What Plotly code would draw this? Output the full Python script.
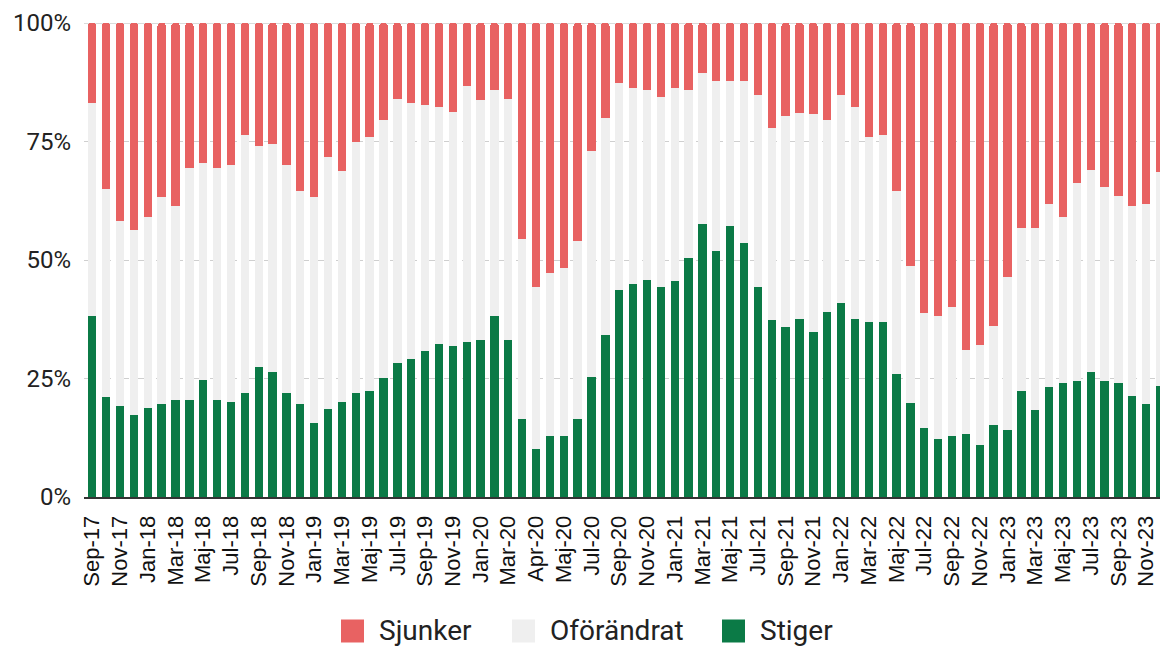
import plotly.graph_objects as go

# ---------------- data ----------------
categories = [
    "Sep-17", "Okt-17", "Nov-17", "Dec-17",
    "Jan-18", "Feb-18", "Mar-18", "Apr-18", "Maj-18", "Jun-18", "Jul-18", "Aug-18", "Sep-18", "Okt-18", "Nov-18", "Dec-18",
    "Jan-19", "Feb-19", "Mar-19", "Apr-19", "Maj-19", "Jun-19", "Jul-19", "Aug-19", "Sep-19", "Okt-19", "Nov-19", "Dec-19",
    "Jan-20", "Feb-20", "Mar-20", "Mar-20 (2)", "Apr-20", "Apr-20 (2)", "Maj-20", "Jun-20", "Jul-20", "Aug-20", "Sep-20", "Okt-20", "Nov-20", "Dec-20",
    "Jan-21", "Feb-21", "Mar-21", "Apr-21", "Maj-21", "Jun-21", "Jul-21", "Aug-21", "Sep-21", "Okt-21", "Nov-21", "Dec-21",
    "Jan-22", "Feb-22", "Mar-22", "Apr-22", "Maj-22", "Jun-22", "Jul-22", "Aug-22", "Sep-22", "Okt-22", "Nov-22", "Dec-22",
    "Jan-23", "Feb-23", "Mar-23", "Apr-23", "Maj-23", "Jun-23", "Jul-23", "Aug-23", "Sep-23", "Okt-23", "Nov-23", "Dec-23",
]

stiger = [
    38.1, 21.0, 19.2, 17.4,
    18.7, 19.7, 20.4, 20.4, 24.6, 20.4, 20.0, 22.0, 27.4, 26.4, 22.0, 19.7,
    15.6, 18.6, 20.0, 22.0, 22.4, 25.1, 28.2, 29.2, 30.9, 32.2, 31.9, 32.7,
    33.2, 38.1, 33.2, 16.4, 10.1, 12.8, 12.8, 16.4, 25.4, 34.1, 43.6, 45.0, 45.8, 44.4,
    45.5, 50.4, 57.7, 51.9, 57.2, 53.6, 44.4, 37.3, 35.9, 37.6, 34.9, 39.1,
    41.0, 37.6, 36.9, 36.9, 25.9, 19.9, 14.6, 12.3, 12.8, 13.2, 10.9, 15.1,
    14.2, 22.4, 18.3, 23.2, 24.1, 24.5, 26.4, 24.5, 24.1, 21.3, 19.7, 23.4,
]

oforandrat = [
    45.1, 44.0, 39.0, 39.0,
    40.4, 43.6, 41.0, 49.1, 45.8, 49.1, 50.1, 54.4, 46.7, 48.1, 48.0, 44.9,
    47.7, 53.2, 48.7, 52.9, 53.5, 54.4, 55.8, 54.0, 51.7, 50.0, 49.3, 54.0,
    50.5, 47.8, 50.8, 38.1, 34.1, 34.4, 35.5, 37.6, 47.6, 45.8, 43.7, 41.3, 40.1, 40.0,
    40.8, 35.5, 31.8, 35.9, 30.6, 34.2, 40.5, 40.5, 44.5, 43.5, 46.0, 40.4,
    43.9, 44.6, 39.0, 39.5, 38.7, 28.8, 24.2, 25.8, 27.3, 17.8, 21.1, 20.9,
    32.2, 34.4, 38.5, 38.7, 35.0, 41.8, 42.6, 40.9, 39.5, 40.1, 42.2, 45.1,
]

sjunker = [
    16.8, 35.0, 41.8, 43.6,
    40.9, 36.7, 38.6, 30.5, 29.6, 30.5, 29.9, 23.6, 25.9, 25.5, 30.0, 35.4,
    36.7, 28.2, 31.3, 25.1, 24.1, 20.5, 16.0, 16.8, 17.4, 17.8, 18.8, 13.3,
    16.3, 14.1, 16.0, 45.5, 55.8, 52.8, 51.7, 46.0, 27.0, 20.1, 12.7, 13.7, 14.1, 15.6,
    13.7, 14.1, 10.5, 12.2, 12.2, 12.2, 15.1, 22.2, 19.6, 18.9, 19.1, 20.5,
    15.1, 17.8, 24.1, 23.6, 35.4, 51.3, 61.2, 61.9, 59.9, 69.0, 68.0, 64.0,
    53.6, 43.2, 43.2, 38.1, 40.9, 33.7, 31.0, 34.6, 36.4, 38.6, 38.1, 31.5,
]

tick_labels = categories[::2]
y_ticks = [0, 25, 50, 75, 100]
y_tick_labels = ["0%", "25%", "50%", "75%", "100%"]

series_names = ["Stiger", "Oförändrat", "Sjunker"]
series_colors = {"Stiger": "#0b7a46", "Oförändrat": "#efefef", "Sjunker": "#e86262"}
legend_order = ["Sjunker", "Oförändrat", "Stiger"]

# ---------------- figure ----------------
W, H = 1160, 646
ML, MR, MT, MB = 84, 0, 23, 149

fig = go.Figure()
for name, vals in zip(series_names, [stiger, oforandrat, sjunker]):
    fig.add_trace(go.Bar(
        x=categories, y=vals, name=name,
        marker=dict(color=series_colors[name], line=dict(width=0)),
        showlegend=False,
        hovertemplate="%{x}: %{y:.1f}%<extra>" + name + "</extra>",
    ))

fig.update_layout(
    width=W, height=H,
    margin=dict(l=ML, r=MR, t=MT, b=MB, pad=0),
    barmode="stack", bargap=0.4, barcornerradius=3,
    plot_bgcolor="white", paper_bgcolor="white",
    showlegend=False,
)

fig.update_xaxes(
    type="category",
    range=[-0.6, 77.0],
    tickmode="array", tickvals=tick_labels, ticktext=tick_labels,
    tickangle=-90,
    tickfont=dict(family="Liberation Sans, Arial", size=22, color="#111"),
    showgrid=False, showline=True, linecolor="#333", linewidth=2,
    ticks="", ticklabelstandoff=8,
)
fig.update_yaxes(
    range=[0, 100],
    tickmode="array", tickvals=y_ticks, ticktext=y_tick_labels,
    tickfont=dict(family="Roboto", size=24, color="#222"),
    showgrid=True, gridcolor="#cfcfcf", gridwidth=1, griddash="dash",
    zeroline=False, ticks="", ticklabelstandoff=12,
)

# solid top gridline at 100%
fig.add_shape(type="line", xref="paper", yref="y", x0=0, x1=1, y0=100, y1=100,
              line=dict(color="#cfcfcf", width=1.5), layer="below")

# ---------------- legend (custom, large swatches) ----------------
pw = W - ML - MR
ph = H - MT - MB
def px_x(x):
    return (x - ML) / pw
def px_y(y):
    return (H - MB - y) / ph

legend_x = {"Sjunker": 341, "Oförändrat": 512, "Stiger": 722}
sq = 23
ly = 631
for name in legend_order:
    x0 = legend_x[name]
    fig.add_shape(type="rect", xref="paper", yref="paper",
                  x0=px_x(x0), x1=px_x(x0 + sq), y0=px_y(ly + sq / 2), y1=px_y(ly - sq / 2),
                  fillcolor=series_colors[name], line=dict(width=0))
    fig.add_annotation(xref="paper", yref="paper", x=px_x(x0 + sq + 13), y=px_y(ly),
                       text=name, showarrow=False, xanchor="left", yanchor="middle",
                       font=dict(family="Roboto", size=28, color="#222"))

fig.write_html(
    "out.html",
    config={"displayModeBar": False},
    post_script="document.body.style.margin='0';document.body.style.overflow='hidden';",
)
